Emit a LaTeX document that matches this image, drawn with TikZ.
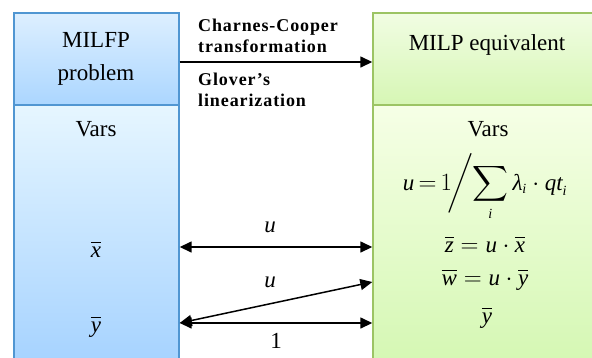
\documentclass[tikz,border=0pt]{standalone}
\usepackage{amsmath}
\usepackage[no-math]{fontspec}
\setmainfont{Liberation Serif}
\usetikzlibrary{arrows.meta}
\definecolor{bborder}{HTML}{5096D2}
\definecolor{gborder}{HTML}{9CC464}
\definecolor{lhtop}{HTML}{DDEFFF}
\definecolor{lhbot}{HTML}{ABD6FF}
\definecolor{lbtop}{HTML}{E6F6FF}
\definecolor{lbbot}{HTML}{A3D1FF}
\definecolor{rhtop}{HTML}{F1FDE3}
\definecolor{rhbot}{HTML}{D6F6B4}
\definecolor{rbtop}{HTML}{F6FFE6}
\definecolor{rbbot}{HTML}{D3F7B1}
\newcommand\mi[1]{\mbox{\itshape #1}}
\newcommand\smi[1]{\mbox{\fontsize{14}{14}\selectfont\itshape #1}}
\begin{document}
\begin{tikzpicture}[x=1pt,y=-1pt,
  bluebox/.style={draw=bborder,line width=1.4pt,inner sep=0pt},
  greenbox/.style={draw=gborder,line width=1.4pt,inner sep=0pt},
  big/.style={font=\fontsize{23}{27}\selectfont,anchor=base,inner sep=0pt},
  lbl/.style={font=\fontsize{18}{20}\selectfont\bfseries\addfontfeature{LetterSpace=5},anchor=base west,inner sep=0pt},
  conn/.style={line width=1.5pt,{Triangle[length=12pt,width=11pt]}-{Triangle[length=12pt,width=11pt]}},
  mainconn/.style={line width=1.5pt,-{Triangle[length=12pt,width=11pt]}}
]
\useasboundingbox (0,0) rectangle (592,357);
\clip (0,0) rectangle (592,357);
\node[bluebox,top color=lhtop,bottom color=lhbot,minimum width=165pt,minimum height=92pt] (lh) at (96.5,59) {};
\node[bluebox,top color=lbtop,bottom color=lbbot,minimum width=165pt,minimum height=270pt] (lb) at (96.5,240) {};
\node[greenbox,top color=rhtop,bottom color=rhbot,minimum width=232pt,minimum height=92pt] (rh) at (489,59) {};
\node[greenbox,top color=rbtop,bottom color=rbbot,minimum width=232pt,minimum height=270pt] (rb) at (489,240) {};

\node[big] (t1) at (96,47) {MILFP};
\node[big] (t2) at (96,80) {problem};
\node[big] (t3) at (96,136) {Vars};
\node[big] (xb) at (96,257) {$\overline{\mi{x}}$};
\node[big] (yb) at (96,332) {$\overline{\mi{y}}$};

\node[big] (t4) at (487,50) {MILP equivalent};
\node[big] (t5) at (488,136) {Vars};
\node[big] (f1) at (485,190) {$\displaystyle \mi{u}\mkern-2mu=\mkern-2mu1\mkern-3mu\mathord{\bigg/}\mkern-4mu\sum_{\smi{i}}\mi{λ}_{\smi{i}}\cdot \mi{qt}_{\smi{i}}$};
\node[big] (f2) at (485,252) {$\overline{\mi{z}}=\mi{u}\cdot\overline{\mi{x}}$};
\node[big] (f3) at (485,285) {$\overline{\mi{w}}=\mi{u}\cdot\overline{\mi{y}}$};
\node[big] (f4) at (487,323) {$\overline{\mi{y}}$};

\node[lbl] (c1) at (198,31) {Charnes-Cooper};
\node[lbl] (c2) at (198,52) {transformation};
\node[lbl] (c3) at (198,85) {Glover’s};
\node[lbl] (c4) at (198,106) {linearization};

\coordinate (ya) at (0,62);
\coordinate (yx) at (0,247);
\coordinate (yw) at (0,282);
\coordinate (yy) at (0,323);
\draw[mainconn] (lh.east |- ya) -- (rh.west |- ya);
\draw[conn] (lb.east |- yx) -- (rb.west |- yx);
\draw[conn] (lb.east |- yy) -- (rb.west |- yw);
\draw[conn] (lb.east |- yy) -- (rb.west |- yy);

\node[big] (u1) at (270,232) {\itshape u};
\node[big] (u2) at (270,287) {\itshape u};
\node[big] (n1) at (276,348) {1};
\end{tikzpicture}
\end{document}
